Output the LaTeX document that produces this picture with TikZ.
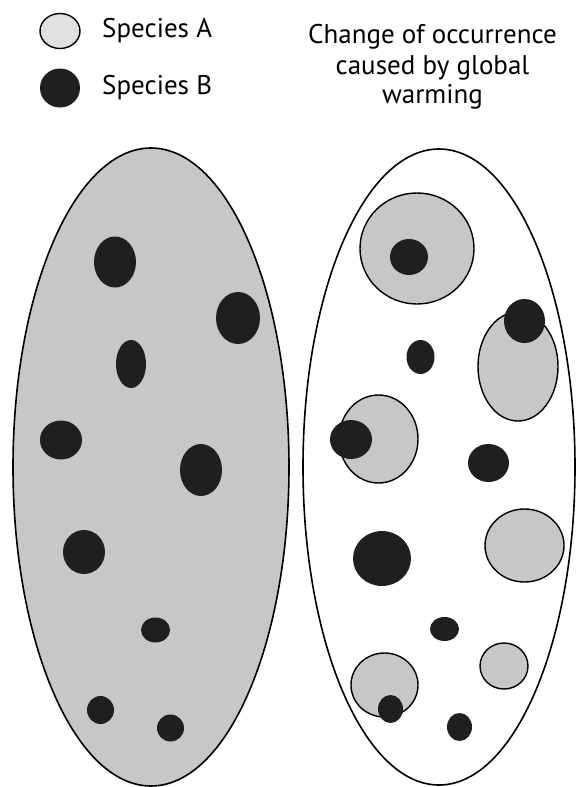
\documentclass[tikz,border=0pt]{standalone}
\usepackage{fontspec}
\setmainfont{PT Sans}
\begin{document}
\begin{tikzpicture}[x=1pt,y=-1pt,
  bigpop/.style={draw=black, line width=1.6pt},
  spa/.style={fill=black!22, draw=black, line width=1.4pt},
  spb/.style={fill=black!88},
  lbl/.style={inner sep=0pt, font=\fontsize{27}{30}\selectfont}]
\useasboundingbox (0,0) rectangle (576,787);
% legend
\draw[spa, fill=black!12] (60,31) ellipse [x radius=20pt, y radius=17.5pt];
\fill[spb] (60,88) ellipse [x radius=20pt, y radius=19.5pt];
\node[lbl, anchor=base west] (la) at (102,37) {Species A};
\node[lbl, anchor=base west] (lb) at (102,94) {Species B};
\node[lbl, anchor=base] (t1) at (432.5,43) {Change of occurrence};
\node[lbl, anchor=base] (t2) at (432.5,74) {caused by global};
\node[lbl, anchor=base] (t3) at (432.5,103) {warming};
% left population
\draw[bigpop, fill=black!22] (151,467) ellipse [x radius=138pt, y radius=319pt];
\fill[spb] (115,262) ellipse [x radius=21pt, y radius=25.5pt];
\fill[spb] (238,318) ellipse [x radius=22pt, y radius=26pt];
\fill[spb] (131,364) ellipse [x radius=15pt, y radius=24pt];
\fill[spb] (61,440) ellipse [x radius=21pt, y radius=19.5pt];
\fill[spb] (201,470) ellipse [x radius=21pt, y radius=26pt];
\fill[spb] (84,552) ellipse [x radius=21pt, y radius=22pt];
\fill[spb] (155.5,630) ellipse [x radius=14.5pt, y radius=12.5pt];
\fill[spb] (100.5,710) ellipse [x radius=13.5pt, y radius=14pt];
\fill[spb] (170.5,728) ellipse [x radius=13.5pt, y radius=13.5pt];
% right population
\draw[bigpop, fill=white] (439,467) ellipse [x radius=136pt, y radius=318pt];
\draw[spa] (417,248.5) ellipse [x radius=57pt, y radius=55.5pt];
\fill[spb] (409,257) ellipse [x radius=19pt, y radius=18pt];
\draw[spa] (518,366.5) ellipse [x radius=40pt, y radius=54.5pt];
\fill[spb] (524.5,321) ellipse [x radius=20.5pt, y radius=22pt];
\fill[spb] (420.5,357) ellipse [x radius=14pt, y radius=17pt];
\draw[spa] (378.5,439) ellipse [x radius=39.5pt, y radius=44pt];
\fill[spb] (351,439.5) ellipse [x radius=21pt, y radius=19.5pt];
\fill[spb] (488.5,463) ellipse [x radius=20.5pt, y radius=19pt];
\draw[spa] (524.5,545.5) ellipse [x radius=39.5pt, y radius=36.5pt];
\fill[spb] (382,558.5) ellipse [x radius=29pt, y radius=27.5pt];
\fill[spb] (444.5,629) ellipse [x radius=14.5pt, y radius=12pt];
\draw[spa] (504,666) ellipse [x radius=24pt, y radius=23pt];
\draw[spa] (384.5,685) ellipse [x radius=33.5pt, y radius=32pt];
\fill[spb] (390.5,709) ellipse [x radius=12.5pt, y radius=14pt];
\fill[spb] (459.5,727) ellipse [x radius=12.5pt, y radius=14pt];
\end{tikzpicture}
\end{document}
